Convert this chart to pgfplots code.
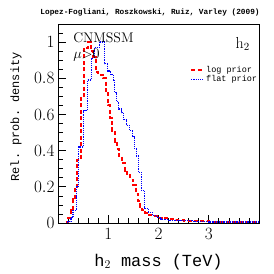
\documentclass[border=0pt]{standalone}
\usepackage{fontspec}
\setmonofont{Liberation Mono}
\usepackage{pgfplots}
\pgfplotsset{compat=1.18}
\begin{document}
\begin{tikzpicture}
\begin{axis}[
  at={(58bp,51bp)}, anchor=south west,
  scale only axis, width=201bp, height=199bp,
  xmin=0, xmax=4, ymin=0, ymax=1.1,
  xtick={1,2,3}, minor xtick={0.2,0.4,...,3.81},
  ytick={0,0.2,0.4,0.6,0.8,1}, minor ytick={0.05,0.1,...,1.06},
  tick align=inside, xtick pos=bottom, ytick pos=left,
  major tick length=8bp, minor tick length=5bp,
  tick style={black, line width=0.7bp},
  axis line style={line width=0.8bp},
  ticklabel style={font=\fontsize{16}{18}\selectfont},
  xticklabel style={yshift=-2bp},
  xlabel={\ttfamily h$_2$ mass (TeV)},
  xlabel style={at={(axis description cs:0.5,0)}, anchor=base, yshift=-43bp, font=\fontsize{17}{19}\selectfont},
  ylabel={\ttfamily Rel. prob. density},
  ylabel style={at={(axis description cs:-0.209,0.533)}, anchor=center, font=\fontsize{12}{14}\selectfont},
  title={\ttfamily\bfseries Lopez-Fogliani, Roszkowski, Ruiz, Varley (2009)},
  title style={at={(axis description cs:0.458,1)}, anchor=base, yshift=4bp, font=\fontsize{7.8}{8}\selectfont},
  legend style={draw=none, fill=none, at={(axis description cs:0.657,0.80)}, anchor=north west,
    font=\ttfamily\fontsize{8.5}{9}\selectfont, row sep=-2bp, inner sep=0pt},
  legend cell align=left,
  legend image code/.code={\draw[#1] (0bp,0bp) -- (12bp,0bp);},
]
\addplot[const plot mark left, red, line width=2bp, dash pattern=on 4bp off 2.5bp] coordinates {
(0.15,0.005) (0.20,0.03) (0.25,0.07) (0.29,0.13) (0.33,0.20) (0.37,0.35) (0.45,0.70) (0.51,0.97) (0.60,1.00) (0.65,0.95) (0.70,0.92) (0.75,0.835) (0.80,0.82) (0.90,0.80) (0.95,0.73) (1.00,0.65) (1.04,0.58) (1.08,0.51) (1.13,0.45) (1.17,0.41) (1.21,0.37) (1.27,0.33) (1.33,0.29) (1.38,0.27) (1.44,0.24) (1.50,0.21) (1.56,0.16) (1.60,0.12) (1.64,0.09) (1.68,0.07) (1.74,0.055) (1.82,0.045) (1.90,0.04) (1.98,0.03) (2.10,0.025) (2.22,0.02) (2.35,0.015) (2.5,0.012) (2.7,0.01) (3.0,0.008) (3.3,0.006) (3.6,0.005) (4.0,0.005)
};
\addlegendentry{log prior}
\addplot[const plot mark left, blue, line width=1.2bp, densely dotted] coordinates {
(0.18,0.005) (0.22,0.01) (0.26,0.03) (0.30,0.07) (0.37,0.20) (0.41,0.42) (0.51,0.62) (0.58,0.79) (0.66,0.91) (0.72,0.97) (0.82,1.00) (0.93,0.88) (0.98,0.84) (1.04,0.82) (1.10,0.79) (1.13,0.72) (1.17,0.67) (1.21,0.63) (1.27,0.61) (1.31,0.57) (1.36,0.54) (1.42,0.51) (1.48,0.48) (1.52,0.41) (1.56,0.37) (1.60,0.28) (1.66,0.18) (1.72,0.08) (1.80,0.06) (1.88,0.04) (1.96,0.03) (2.05,0.02) (2.2,0.015) (2.4,0.012) (2.7,0.008) (3.0,0.006) (3.4,0.005) (4.0,0.005)
};
\addlegendentry{flat prior}
\node[anchor=base west, font=\fontsize{14}{16}\selectfont, inner sep=0pt] at (rel axis cs:0.075,0.905) {CNMSSM};
\node[anchor=base west, font=\fontsize{14}{16}\selectfont, inner sep=0pt] at (rel axis cs:0.075,0.825) {$\mu{>}0$};
\node[anchor=base east, font=\fontsize{16}{18}\selectfont, inner sep=0pt] at (rel axis cs:0.955,0.879) {$\mathrm{h}_2$};
\end{axis}
\pgfresetboundingbox
\path[use as bounding box] (0bp,0bp) rectangle (274bp,274bp);
\end{tikzpicture}
\end{document}
